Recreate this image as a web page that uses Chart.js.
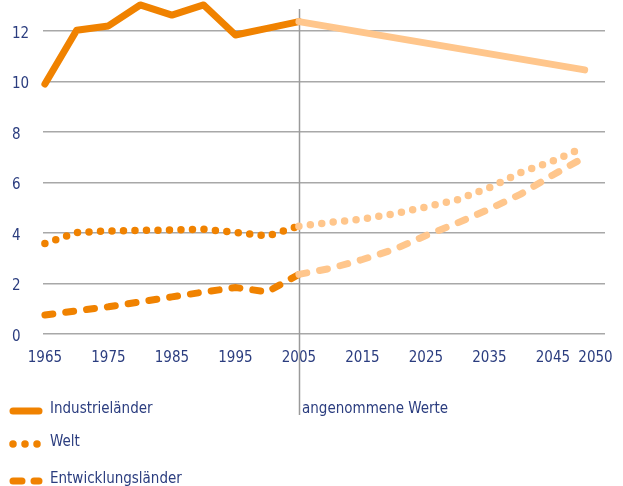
<!DOCTYPE html>
<html>
<head>
<meta charset="utf-8">
<script src="https://cdn.jsdelivr.net/npm/chart.js@4/dist/chart.umd.min.js"></script>
<style>
  html, body { margin: 0; padding: 0; background: #fff; }
  #wrap { width: 623px; height: 486px; position: relative; }
</style>
</head>
<body>
<div id="wrap"><canvas id="chart"></canvas></div>
<script>
// Data
const industrieX = [1965, 1970, 1975, 1980, 1985, 1990, 1995, 2000, 2005, 2050];
const industrie  = [9.9, 12.03, 12.2, 13.03, 12.63, 13.03, 11.84, 12.1, 12.37, 10.46];

const years = [1965, 1970, 1975, 1980, 1985, 1990, 1995, 2000, 2005,
               2010, 2015, 2020, 2025, 2030, 2035, 2040, 2045, 2050];
const welt = [3.58, 4.02, 4.08, 4.1, 4.12, 4.15, 4.02, 3.88, 4.27,
              4.42, 4.55, 4.76, 5.03, 5.32, 5.8, 6.4, 6.85, 7.4];
const entwicklung = [0.75, 0.92, 1.08, 1.27, 1.47, 1.66, 1.84, 1.67, 2.36,
                     2.6, 2.95, 3.35, 3.9, 4.4, 4.95, 5.55, 6.3, 7.0];

const seriesNames = ['Industrieländer', 'Welt', 'Entwicklungsländer'];
const xTickLabels = ['1965', '1975', '1985', '1995', '2005', '2015', '2025', '2035', '2045', '2050'];
// the "2050" label sits a little right of its year in the original
const xTickValues = [1965, 1975, 1985, 1995, 2005, 2015, 2025, 2035, 2045, 2051.7];
const yTicks = [0, 2, 4, 6, 8, 10, 12];
const splitYear = 2005;
const splitLabel = 'angenommene Werte';

const DARK = '#f08200';
const LIGHT = '#ffc68c';
const TEXT = '#2b3d7f';
const FONT = "'Liberation Sans Narrow', 'DejaVu Sans Condensed', sans-serif";

function toPoints(xs, ys) {
  return xs.map((x, i) => ({ x: x, y: ys[i] }));
}
const segColor = ctx => ctx.p0.parsed.x >= splitYear ? LIGHT : DARK;

// vertical divider + label, and hand-drawn legend
const extras = {
  id: 'extras',
  beforeDatasetsDraw(chart) {
    const c = chart.ctx, x = Math.round(chart.scales.x.getPixelForValue(splitYear)) + 0.5;
    c.save();
    c.strokeStyle = '#9a9a9a';
    c.lineWidth = 1.5;
    c.beginPath();
    c.moveTo(x, chart.chartArea.top);
    c.lineTo(x, 415);
    c.stroke();
    c.fillStyle = TEXT;
    c.font = '15px ' + FONT;
    c.textBaseline = 'middle';
    c.fillText(splitLabel, x + 2.5, 409);
    c.restore();
  },
  afterDraw(chart) {
    const c = chart.ctx;
    const rows = [409, 442, 479];
    c.save();
    c.font = '15px ' + FONT;
    c.textBaseline = 'middle';
    chart.data.datasets.forEach((ds, i) => {
      const y = rows[i] + 2;
      c.strokeStyle = DARK;
      c.lineWidth = ds.borderWidth;
      c.lineCap = 'round';
      c.setLineDash(i === 0 ? [] : i === 1 ? [0, 12] : [9, 12]);
      c.beginPath();
      if (i === 1) { c.moveTo(13, y); c.lineTo(38, y); }
      else { c.moveTo(13, y); c.lineTo(39, y); }
      c.stroke();
      c.setLineDash([]);
      c.fillStyle = TEXT;
      c.fillText(ds.label, 50, rows[i]);
    });
    c.restore();
  }
};

new Chart(document.getElementById('chart'), {
  type: 'line',
  data: {
    datasets: [
      {
        label: seriesNames[0],
        data: toPoints(industrieX, industrie),
        borderColor: DARK,
        borderWidth: 7,
        borderCapStyle: 'round',
        borderJoinStyle: 'round',
        segment: { borderColor: segColor }
      },
      {
        label: seriesNames[1],
        data: toPoints(years, welt),
        borderColor: DARK,
        borderWidth: 7.5,
        borderCapStyle: 'round',
        borderDash: [0, 11.5],
        segment: { borderColor: segColor }
      },
      {
        label: seriesNames[2],
        data: toPoints(years, entwicklung),
        borderColor: DARK,
        borderWidth: 7,
        borderCapStyle: 'round',
        borderDash: [8, 13],
        segment: { borderColor: segColor }
      }
    ]
  },
  options: {
    responsive: true,
    maintainAspectRatio: false,
    animation: false,
    clip: false,
    elements: { point: { radius: 0 }, line: { tension: 0 } },
    layout: { padding: { left: 12, top: 8, right: 18, bottom: 0 } },
    plugins: { legend: { display: false }, tooltip: { enabled: false } },
    scales: {
      x: {
        type: 'linear',
        min: 1964.7,
        max: 2053.2,
        afterBuildTicks: s => { s.ticks = xTickValues.map(v => ({ value: v })); },
        afterFit: s => { s.height = 152; s.paddingLeft = 0; s.paddingRight = 0; },
        grid: { display: false, drawTicks: false },
        border: { display: false },
        ticks: {
          color: TEXT,
          font: { family: FONT, size: 15 },
          padding: 15,
          maxRotation: 0,
          autoSkip: false,
          callback: (v, i) => xTickLabels[i]
        }
      },
      y: {
        min: 0,
        max: 12.87,
        afterBuildTicks: s => { s.ticks = yTicks.map(v => ({ value: v })); },
        afterFit: s => { s.width = 31; },
        grid: { color: '#a8a8a8', lineWidth: 1.5, drawTicks: false },
        border: { display: false },
        ticks: {
          color: TEXT,
          font: { family: FONT, size: 15 },
          crossAlign: 'far',
          padding: 0,
          labelOffset: 3
        }
      }
    }
  },
  plugins: [extras]
});
</script>
</body>
</html>
